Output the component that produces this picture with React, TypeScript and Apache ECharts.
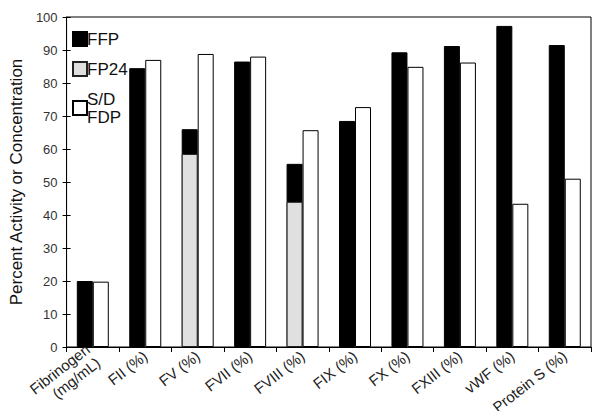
import React, { useEffect, useRef } from "react";
import * as echarts from "echarts";

const categories = [
  "Fibrinogen\n(mg/mL)",
  "FII (%)",
  "FV (%)",
  "FVII (%)",
  "FVIII (%)",
  "FIX (%)",
  "FX (%)",
  "FXIII (%)",
  "vWF (%)",
  "Protein S (%)",
];
const ffp = [20, 84.5, 66, 86.5, 55.5, 68.5, 89.3, 91.2, 97.3, 91.5];
const fp24: (number | string)[] = ["-", "-", 58.5, "-", 44, "-", "-", "-", "-", "-"];
const sdfdp = [19.8, 87, 88.8, 88, 65.7, 72.7, 84.9, 86.2, 43.4, 51];
const yTicks = { min: 0, max: 100, interval: 10 };

export default function App() {
  const ref = useRef<HTMLDivElement>(null);
  useEffect(() => {
    const chart = echarts.init(ref.current!, null, { renderer: "svg" });
    const font = "Liberation Sans, Arial, sans-serif";
    const barW = 16;
    chart.setOption({
      animation: false,
      textStyle: { fontFamily: font },
      grid: {
        left: 65,
        right: 10,
        top: 17,
        bottom: 72,
        show: true,
        borderColor: "#000",
        borderWidth: 1,
      },
      legend: {
        orient: "vertical",
        left: 67,
        top: 25,
        itemWidth: 14,
        itemHeight: 14,
        itemGap: 12,
        icon: "rect",
        data: ["FFP", "FP24", "S/D FDP"],
        formatter: (n: string) => (n === "S/D FDP" ? "S/D\nFDP" : n),
        textStyle: { fontSize: 17, color: "#111", fontFamily: font, padding: [0, 0, 0, -5], lineHeight: 18 },
      },
      xAxis: [
        {
          type: "category",
          data: categories,
          axisLine: { lineStyle: { color: "#000", width: 1 } },
          axisTick: { show: true, length: 5, lineStyle: { color: "#000" }, alignWithLabel: false },
          axisLabel: {
            rotate: 38,
            fontSize: 15,
            color: "#222",
            margin: 7,
            interval: 0,
            lineHeight: 17,
          },
        },
        {
          type: "category",
          data: categories,
          show: false,
        },
      ],
      yAxis: [
        {
          type: "value",
          ...yTicks,
          name: "Percent Activity or Concentration",
          nameLocation: "middle",
          nameGap: 38,
          nameTextStyle: { fontSize: 17, color: "#111" },
          axisLine: { show: true, lineStyle: { color: "#000" } },
          axisTick: { show: true, length: 4, lineStyle: { color: "#000" } },
          axisLabel: { fontSize: 13, color: "#333", margin: 9 },
          splitLine: { show: false },
        },
        {
          type: "value",
          ...yTicks,
          position: "left",
          axisLine: { show: false },
          axisTick: { show: true, inside: true, length: 4, lineStyle: { color: "#000" } },
          axisLabel: { show: false },
          splitLine: { show: false },
        },
      ],
      series: [
        {
          name: "FFP",
          type: "bar",
          data: ffp,
          barWidth: barW,
          barGap: "0%",
          itemStyle: { color: "#000", borderColor: "#000", borderWidth: 1 },
          z: 2,
        },
        {
          name: "S/D FDP",
          type: "bar",
          data: sdfdp,
          barWidth: barW,
          barGap: "0%",
          itemStyle: { color: "#fff", borderColor: "#000", borderWidth: 1 },
          z: 2,
        },
        {
          name: "FP24",
          type: "bar",
          xAxisIndex: 1,
          data: fp24,
          barWidth: barW,
          barGap: "0%",
          itemStyle: { color: "#e0e0e0", borderColor: "#222", borderWidth: 1 },
          z: 3,
        },
        {
          name: "dummy",
          type: "bar",
          xAxisIndex: 1,
          data: categories.map(() => "-"),
          barWidth: barW,
          barGap: "0%",
        },
      ],
    });
    return () => chart.dispose();
  }, []);
  return <div ref={ref} style={{ width: 601, height: 419, margin: -8 }} />;
}
